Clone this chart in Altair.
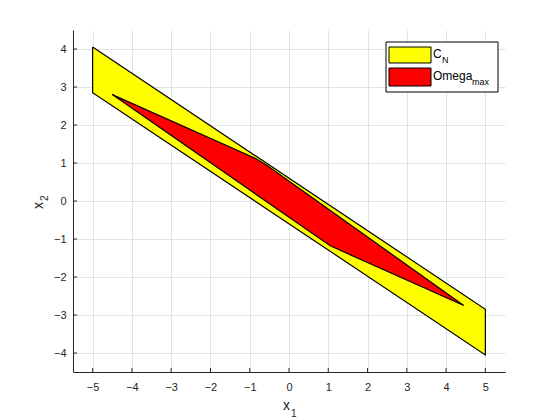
import altair as alt
import pandas as pd

# C_N polygon (yellow)
cn_x = [-5, 5, 5, -5, -5]
cn_y = [4.05, -2.85, -4.05, 2.85, 4.05]
# Omega_max polygon (red)
om_x = [-4.5, -0.85, -0.55, 4.45, 1.05, -4.5]
om_y = [2.8, 1.12, 0.93, -2.75, -1.18, 2.8]

x_ticks = [-5, -4, -3, -2, -1, 0, 1, 2, 3, 4, 5]
y_ticks = [-4, -3, -2, -1, 0, 1, 2, 3, 4]

W, H = 432, 342
FONT = "Liberation Sans"
AX = "#262626"

cn = pd.DataFrame({"x": cn_x, "y": cn_y, "o": range(len(cn_x))})
om = pd.DataFrame({"x": om_x, "y": om_y, "o": range(len(om_x))})

xs = alt.Scale(domain=[-5.5, 5.5], nice=False, zero=False)
ys = alt.Scale(domain=[-4.5, 4.5], nice=False, zero=False)

xax = alt.Axis(values=x_ticks, title=None, ticks=False, grid=True, labelPadding=9)
yax = alt.Axis(values=y_ticks, title=None, ticks=False, grid=True, labelPadding=7)

cn_layer = alt.Chart(cn).mark_line(fill="#ffff00", stroke="black", strokeWidth=1.2).encode(
    x=alt.X("x:Q", scale=xs, axis=xax),
    y=alt.Y("y:Q", scale=ys, axis=yax),
    order="o:Q",
)
om_layer = alt.Chart(om).mark_line(fill="#ff0000", stroke="black", strokeWidth=1.2).encode(
    x=alt.X("x:Q", scale=xs),
    y=alt.Y("y:Q", scale=ys),
    order="o:Q",
)

# inward tick marks
xt = alt.Chart(pd.DataFrame({"t": x_ticks})).mark_rule(color=AX).encode(
    x=alt.X("t:Q", scale=xs), y=alt.value(H), y2=alt.value(H - 4)
)
yt = alt.Chart(pd.DataFrame({"t": y_ticks})).mark_rule(color=AX).encode(
    y=alt.Y("t:Q", scale=ys), x=alt.value(0), x2=alt.value(4)
)

# legend (layout in pixels)
leg_box = alt.Chart(pd.DataFrame({"a": [0]})).mark_rect(
    fill="white", stroke="black", strokeWidth=1
).encode(x=alt.value(313), x2=alt.value(425), y=alt.value(12), y2=alt.value(62))
sw1 = alt.Chart(pd.DataFrame({"a": [0]})).mark_rect(
    fill="#ffff00", stroke="black", strokeWidth=1
).encode(x=alt.value(316), x2=alt.value(358), y=alt.value(17), y2=alt.value(33))
sw2 = alt.Chart(pd.DataFrame({"a": [0]})).mark_rect(
    fill="#ff0000", stroke="black", strokeWidth=1
).encode(x=alt.value(316), x2=alt.value(358), y=alt.value(38), y2=alt.value(56))


def txt(s, x, y, size, color="black", angle=0):
    return alt.Chart(pd.DataFrame({"s": [s]})).mark_text(
        font=FONT, fontSize=size, color=color,
        align="left", baseline="alphabetic", angle=angle
    ).encode(text="s:N", x=alt.value(x), y=alt.value(y))


t1 = txt("C", 360, 28, 12)
t1s = txt("N", 369, 33, 9)
t2 = txt("Omega", 360, 50, 12)
t2s = txt("max", 399, 55, 9)

# axis titles
xt1 = txt("x", 210, 380, 14, AX)
xt1s = txt("1", 218, 387, 10, AX)
yt1 = txt("x", -30, 179, 14, AX, 270)
yt1s = txt("2", -25, 171, 10, AX, 270)

chart = alt.layer(
    cn_layer, om_layer, xt, yt, leg_box, sw1, sw2, t1, t1s, t2, t2s, xt1, xt1s, yt1, yt1s
).properties(
    width=W, height=H,
    autosize=alt.AutoSizeParams(type="none"),
    padding={"left": 65, "top": 22, "right": 40, "bottom": 50},
    background="white",
).configure_view(stroke=None).configure_axis(
    labelFont=FONT, labelFontSize=11, labelColor=AX, domainColor=AX,
    gridColor="#e3e3e3", domainWidth=1,
)

chart.save("out.html", embed_options={"renderer": "svg", "actions": False})
